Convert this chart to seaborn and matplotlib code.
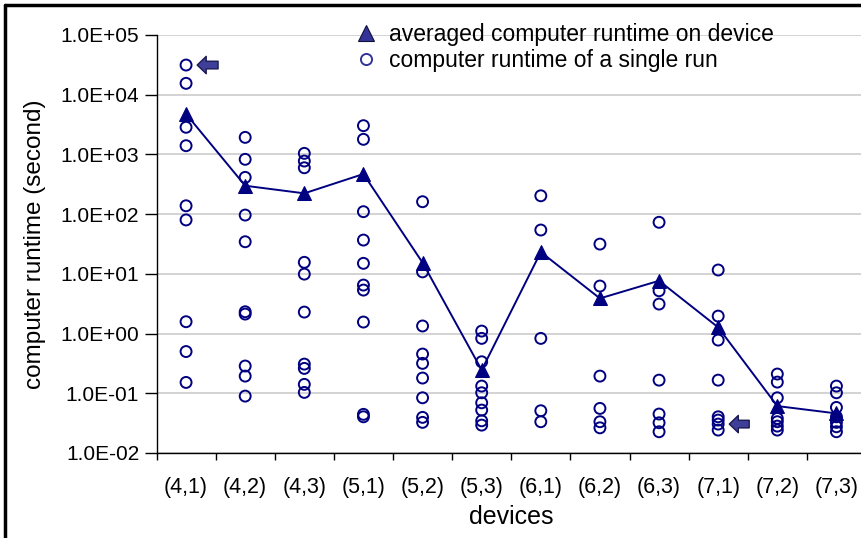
import numpy as np
import pandas as pd
import matplotlib
matplotlib.use("Agg")
import matplotlib.pyplot as plt
from matplotlib.lines import Line2D
from matplotlib.ticker import FixedLocator, FuncFormatter, NullLocator
import seaborn as sns

# Device configurations (n, k)
devices = ["(4,1)", "(4,2)", "(4,3)", "(5,1)", "(5,2)", "(5,3)",
           "(6,1)", "(6,2)", "(6,3)", "(7,1)", "(7,2)", "(7,3)"]

# Runtime of each single run, in seconds, per device
runs_41 = [31400, 15500, 2850, 1400, 138, 80, 1.58, 0.50, 0.152]
runs_42 = [1930, 828, 413, 96.5, 34.5, 2.32, 2.12, 0.286, 0.194, 0.0897]
runs_43 = [1042, 775, 598, 15.6, 9.9, 2.29, 0.308, 0.261, 0.141, 0.1035]
runs_51 = [3030, 1790, 110, 36.8, 15.0, 6.49, 5.35, 1.56, 0.0444, 0.0404]
runs_52 = [161.5, 10.8, 1.34, 0.454, 0.317, 0.180, 0.0841, 0.0395, 0.0326]
runs_53 = [1.10, 0.831, 0.337, 0.132, 0.102, 0.0693, 0.0523, 0.0346, 0.0293]
runs_61 = [203, 54.2, 0.83, 0.051, 0.0334]
runs_62 = [31.5, 6.25, 0.194, 0.0558, 0.0334, 0.0264]
runs_63 = [73, 5.21, 3.12, 0.166, 0.0449, 0.0321, 0.0227]
runs_71 = [11.6, 1.96, 0.778, 0.166, 0.0404, 0.0356, 0.0305, 0.0242]
runs_72 = [0.210, 0.154, 0.0841, 0.038, 0.0334, 0.0282, 0.0242]
runs_73 = [0.132, 0.102, 0.058, 0.0404, 0.0326, 0.0275, 0.0227]

# Averaged runtime per device, in seconds
averages = [4750, 299, 223, 470, 15.4, 0.245, 23.2, 3.88, 7.66, 1.27, 0.0611, 0.046]

# Labels for the legend and axes
avg_label = "averaged computer runtime on device"
run_label = "computer runtime of a single run"
x_title = "devices"
y_title = "computer runtime (second)"

all_runs = [runs_41, runs_42, runs_43, runs_51, runs_52, runs_53,
            runs_61, runs_62, runs_63, runs_71, runs_72, runs_73]

runs_df = pd.DataFrame(
    [(dev, v) for dev, vals in zip(devices, all_runs) for v in vals],
    columns=["device", "runtime"],
)
avg_df = pd.DataFrame({"device": devices, "runtime": averages})

sns.set_theme(style="white")
plt.rcParams["font.family"] = ["Liberation Sans", "DejaVu Sans"]
plt.rcParams["text.color"] = "black"
plt.rcParams["axes.labelcolor"] = "black"
plt.rcParams["xtick.color"] = "black"
plt.rcParams["ytick.color"] = "black"

W, H = 861, 538
fig = plt.figure(figsize=(W / 100, H / 100), dpi=100)

# Plot area: extends slightly past the right edge of the canvas
left_px, right_px, top_px, bottom_px = 156.5, 866, 35, 453
ax = fig.add_axes([left_px / W, (H - bottom_px) / H,
                   (right_px - left_px) / W, (bottom_px - top_px) / H])

navy = "#000080"
legend_blue = "#333399"

sns.scatterplot(data=runs_df, x="device", y="runtime", ax=ax,
                marker="o", s=62, facecolors="none", edgecolor=navy,
                linewidth=1.4, zorder=3, legend=False)
sns.lineplot(data=avg_df, x="device", y="runtime", ax=ax, sort=False,
             color=navy, linewidth=1.4, marker="^", markersize=10,
             markeredgecolor=navy, markerfacecolor=navy, zorder=4,
             legend=False, errorbar=None)

ax.set_yscale("log")
ax.set_ylim(1e-2, 1e5)
ax.set_xlim(-0.5, len(devices) - 0.5)

decades = [10.0 ** p for p in range(-2, 6)]
ax.yaxis.set_major_locator(FixedLocator(decades))
ax.yaxis.set_minor_locator(NullLocator())
ax.yaxis.set_major_formatter(FuncFormatter(lambda v, _: f"{v:.1E}"))

ax.set_xticks(range(len(devices)))
ax.set_xticklabels(devices)
ax.set_xticks(np.arange(-0.5, len(devices)), minor=True)

ax.tick_params(axis="x", which="major", length=0, pad=17, labelsize=15.5,
               colors="black")
ax.tick_params(axis="x", which="minor", length=5, width=1, direction="out",
               color="black", bottom=True)
ax.tick_params(axis="y", which="major", length=9, width=1, direction="out",
               pad=3.5, labelsize=15, color="black", left=True)

ax.grid(axis="y", which="major", color="#c8c8c8", linewidth=1.1)
ax.grid(axis="x", visible=False)
for gl in ax.get_ygridlines():
    if np.isclose(gl.get_ydata()[0], 1e5):
        gl.set_visible(False)

for side in ("top", "right"):
    ax.spines[side].set_visible(False)
for side in ("left", "bottom"):
    ax.spines[side].set_color("black")
    ax.spines[side].set_linewidth(1.0)

ax.set_xlabel(x_title, fontsize=18, labelpad=5)
ax.set_ylabel(y_title, fontsize=17.5, labelpad=10)

# Arrows pointing at two notable single runs
arrow_props = dict(arrowstyle="simple,head_length=0.65,head_width=1.25,tail_width=0.55",
                   mutation_scale=10, fc="#3f3f9a", ec="#1a1a50", lw=1.0,
                   shrinkA=0, shrinkB=8)
ax.annotate("", xy=(0, runs_41[0]), xytext=(32, 0), textcoords="offset pixels",
            arrowprops=arrow_props, zorder=5)
ax.annotate("", xy=(9, runs_71[6]), xytext=(31, 0), textcoords="offset pixels",
            arrowprops=arrow_props, zorder=5)

handles = [
    Line2D([], [], linestyle="none", marker="^", markersize=12,
           markerfacecolor=legend_blue, markeredgecolor="#111133",
           markeredgewidth=0.8),
    Line2D([], [], linestyle="none", marker="o", markersize=8,
           markerfacecolor="none", markeredgecolor=legend_blue,
           markeredgewidth=1.4),
]
fig.legend(handles, [avg_label, run_label], loc="upper left",
           bbox_to_anchor=(355 / W, 1 - 23 / H), frameon=False,
           fontsize=16.5, handlelength=1.0, handletextpad=0.5,
           labelspacing=0.12, borderpad=0, borderaxespad=0)

# Chart-area border (left and top edges)
fig.add_artist(Line2D([5 / W, 5 / W], [0, 1 - 5 / H], color="black",
                      linewidth=2.5, transform=fig.transFigure))
fig.add_artist(Line2D([5 / W, 1], [1 - 5 / H, 1 - 5 / H], color="black",
                      linewidth=2.5, transform=fig.transFigure))

fig.savefig("out.png", dpi=100)
